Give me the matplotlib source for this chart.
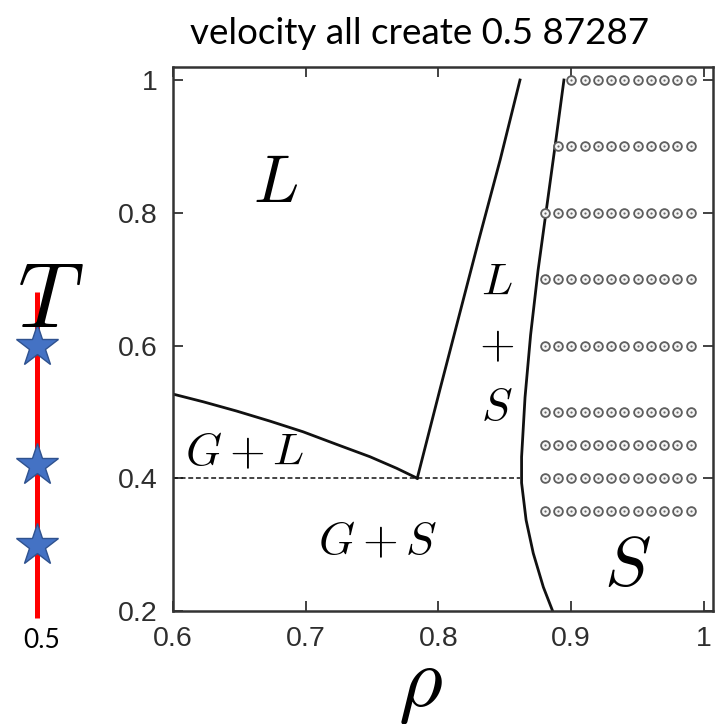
import matplotlib
matplotlib.use("Agg")
import matplotlib.pyplot as plt
import numpy as np

plt.rcParams['mathtext.fontset'] = 'cm'

# ---------------- data ----------------
# G+L upper boundary (rho, T)
gl_rho = [0.6008, 0.6228, 0.648, 0.673, 0.698, 0.7233, 0.7484, 0.7685, 0.784]
gl_T = [0.5264, 0.5152, 0.5012, 0.4861, 0.470, 0.451, 0.4324, 0.415, 0.400]
# liquid side of L+S coexistence
ls_rho = [0.784, 0.801, 0.8305, 0.8465, 0.8614]
ls_T = [0.400, 0.533, 0.760, 0.880, 1.000]
# solid side of coexistence
sol_rho = [0.886, 0.879, 0.8714, 0.866, 0.8626, 0.8626, 0.8652, 0.8694,
           0.875, 0.8815, 0.8878, 0.8945]
sol_T = [0.200, 0.236, 0.287, 0.337, 0.393, 0.432, 0.522, 0.616,
         0.713, 0.808, 0.900, 1.000]
# triple line
triple_T = 0.4
triple_rho = [0.600, 0.8614]
# simulated state points (open circles)
circle_T = [1.0, 0.9, 0.8, 0.7, 0.6, 0.5, 0.45, 0.4, 0.35]
circle_rho_start = [0.90, 0.89, 0.88, 0.88, 0.88, 0.88, 0.88, 0.88, 0.88]
circle_rho_end = 0.99
# velocity stars
star_T = [0.6, 0.42, 0.3]
vel_line_T = [0.68, 0.19]
vel_label = "0.5"
title_text = "velocity all create 0.5 87287"

xticks = [0.6, 0.7, 0.8, 0.9, 1.0]
xticklabels = ["0.6", "0.7", "0.8", "0.9", "1"]
yticks = [0.2, 0.4, 0.6, 0.8, 1.0]
yticklabels = ["0.2", "0.4", "0.6", "0.8", "1"]

# ---------------- figure ----------------
W, H = 718, 724
fig = plt.figure(figsize=(W / 100, H / 100), dpi=100)
ax = fig.add_axes([173 / W, 1 - 611 / H, 540 / W, 544 / H])

ax.plot(gl_rho, gl_T, color='#111111', lw=2.0, solid_joinstyle='round')
ax.plot(ls_rho, ls_T, color='#111111', lw=2.0, solid_joinstyle='round')
ax.plot(sol_rho, sol_T, color='#111111', lw=2.0, solid_joinstyle='round')
ax.plot(triple_rho, [triple_T, triple_T], color='#111111', lw=1.1,
        linestyle=(0, (3.2, 1.8)))

for T, r0 in zip(circle_T, circle_rho_start):
    n = int(round((circle_rho_end - r0) / 0.01)) + 1
    rr = np.linspace(r0, circle_rho_end, n)
    ax.plot(rr, [T] * n, linestyle='none', marker='o', ms=6.3,
            mfc='#f4f4f4', mec='#5e5e5e', mew=1.3)
    ax.plot(rr, [T] * n, linestyle='none', marker='o', ms=1.6,
            mfc='#6a6a6a', mec='none')

ax.set_xlim(0.6, 1.0068)
ax.set_ylim(0.2, 1.0196)
ax.set_xticks(xticks)
ax.set_xticklabels(xticklabels)
ax.set_yticks(yticks)
ax.set_yticklabels(yticklabels)
ax.tick_params(direction='in', length=7, width=1.3, color='#333333',
               top=True, right=True, labelsize=20.5, labelcolor='#2e2e2e',
               pad=11)
for lab in ax.get_xticklabels() + ax.get_yticklabels():
    lab.set_fontfamily('Liberation Sans')
for s in ax.spines.values():
    s.set_color('#333333')
    s.set_linewidth(1.8)

# region labels
ax.text(0.677, 0.845, r'$L$', fontsize=48, ha='center', va='center')
ax.text(0.942, 0.269, r'$S$', fontsize=50, ha='center', va='center')
ax.text(0.654, 0.439, r'$G+L$', fontsize=33, ha='center', va='center')
ax.text(0.7544, 0.304, r'$G+S$', fontsize=33, ha='center', va='center')
ax.text(0.844, 0.695, r'$L$', fontsize=33, ha='center', va='center')
ax.text(0.844, 0.600, r'$+$', fontsize=33, ha='center', va='center')
ax.text(0.844, 0.506, r'$S$', fontsize=33, ha='center', va='center')

# axis labels from the original figure
fig.text(420 / W, 1 - 705 / H, r'$\rho$', fontsize=61, ha='center',
         va='baseline')
fig.text(50 / W, 1 - 327 / H, r'$T$', fontsize=66, ha='center',
         va='baseline')

# velocity overlay (stars on red line)
ax2 = fig.add_axes([0, 1 - 611 / H, 74 / W, 544 / H])
ax2.set_xlim(0, 74)
ax2.set_ylim(0.2, 1.0196)
ax2.axis('off')
ax2.plot([37, 37], vel_line_T, color='#ff0000', lw=3.6, clip_on=False,
         solid_capstyle='butt')
ax2.plot([37] * len(star_T), star_T, linestyle='none', marker='*', ms=32,
         mfc='#4472c4', mec='#2f528f', mew=1.0, clip_on=False)
fig.text(42 / W, 1 - 640 / H, vel_label, fontsize=19, ha='center', va='center',
         family='Lato')

fig.text(420 / W, 1 - 33 / H, title_text, fontsize=26.5, ha='center',
         va='center', family='Lato')

fig.savefig('out.png', dpi=100)
